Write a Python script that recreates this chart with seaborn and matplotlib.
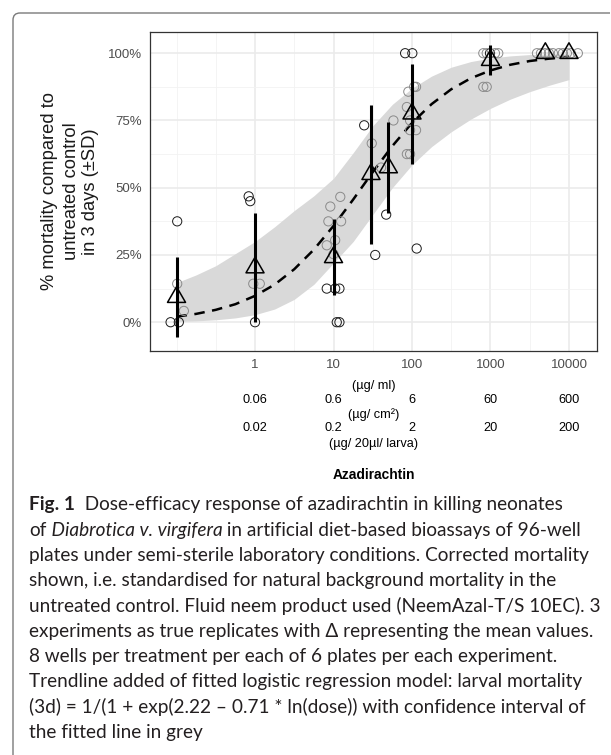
import numpy as np
import pandas as pd
import matplotlib
matplotlib.use("Agg")
import matplotlib.pyplot as plt
import seaborn as sns
from matplotlib.path import Path
from matplotlib.patches import PathPatch
from matplotlib.ticker import FixedLocator, NullFormatter
from matplotlib.transforms import blended_transform_factory

# ---------------- data ----------------
point_dose = [0.102, 0.102, 0.124, 0.084, 0.107,
              0.83, 0.87, 0.95, 1.15, 1.0,
              9.1, 12.2, 8.6, 12.5, 10.5, 8.2, 10.0, 8.2, 10.5, 11.9, 11.0, 11.9,
              24.6, 30.7, 34.0,
              46.9, 58.0, 40.4,
              81.7, 101, 106.5, 112.6, 89.8, 86, 94.5, 94.5, 112.6, 86, 94.5, 114.7,
              810, 895, 986, 1140, 1256, 810, 895,
              3910, 4400, 4930, 5550, 6240,
              7430, 8360, 9400, 10570, 12970]
point_mortality = [37.5, 14.3, 4.2, 0, 0,
                   46.8, 45.0, 14.3, 14.3, 0,
                   43.0, 46.6, 37.5, 37.5, 30.5, 28.6, 25.3, 12.5, 12.5, 12.5, 0, 0,
                   73.2, 66.5, 25.0,
                   40.0, 75.0, 57.5,
                   100, 100, 87.5, 87.5, 85.7, 80.0, 75.0, 71.4, 71.4, 62.5, 62.5, 27.4,
                   100, 100, 100, 100, 100, 87.5, 87.5,
                   100, 100, 100, 100, 100,
                   100, 100, 100, 100, 100]
point_group = ["A", "B", "B", "A", "A",
               "A", "A", "B", "B", "A",
               "B", "B", "B", "B", "B", "B", "B", "A", "A", "A", "A", "A",
               "A", "B", "A",
               "A", "B", "B",
               "A", "A", "B", "B", "B", "B", "B", "B", "B", "B", "B", "A",
               "B", "B", "A", "B", "B", "B", "B",
               "B", "B", "B", "B", "B",
               "B", "B", "B", "B", "B"]

mean_dose = [0.1, 1, 10, 30, 50, 100, 1000, 5000, 10000]
mean_mortality = [9.3, 20.3, 24.1, 55.0, 57.5, 77.5, 97.4, 100.0, 100.0]
sd_mortality = [14.8, 20.3, 14.1, 25.8, 17.0, 18.5, 5.6, 0.0, 0.0]

fit_dose = [0.1, 0.178, 0.316, 0.562, 1, 1.78, 3.16, 5.62, 10, 17.8, 31.6, 56.2,
            100, 178, 316, 562, 1000, 1780, 3160, 5620, 10000]
fit_mortality = [2.1, 3.1, 4.6, 6.7, 9.8, 14.0, 19.7, 27.0, 35.8, 45.6, 55.8, 65.5,
                 74.1, 81.1, 86.6, 90.7, 93.6, 95.7, 97.1, 98.0, 98.7]
fit_lower = [0.3, 0.5, 0.9, 1.6, 2.8, 4.9, 8.5, 14.1, 22.0, 30.0, 40.0, 50.0,
             58.5, 65.3, 70.8, 75.5, 79.5, 82.9, 85.7, 88.1, 90.2]
fit_upper = [14.7, 17.6, 21.0, 25.5, 30.0, 35.5, 41.5, 47.0, 53.5, 63.0, 73.0, 81.0,
             87.0, 91.5, 94.8, 96.9, 98.2, 99.0, 99.5, 99.7, 99.8]

x_ticks = [1, 10, 100, 1000, 10000]
x_tick_labels = ["1", "10", "100", "1000", "10000"]
conc_cm2 = ["0.06", "0.6", "6", "60", "600"]
conc_larva = ["0.02", "0.2", "2", "20", "200"]
y_ticks = [0, 25, 50, 75, 100]
y_tick_labels = ["0%", "25%", "50%", "75%", "100%"]

y_title = ["% mortality compared to", "untreated control", "in 3 days (\u00b1SD)"]
unit_ml = "(\u00b5g/ ml)"
unit_cm2 = "(\u00b5g/ cm\u00b2)"
unit_larva = "(\u00b5g/ 20\u00b5l/ larva)"
x_title = "Azadirachtin"

caption = [
    [("Fig. 1", "bold"), ("  Dose-efficacy response of azadirachtin in killing neonates", "normal")],
    [("of", "normal"), (" Diabrotica v. virgifera", "italic"), (" in artificial diet-based bioassays of 96-well", "normal")],
    [("plates under semi-sterile laboratory conditions. Corrected mortality", "normal")],
    [("shown, i.e. standardised for natural background mortality in the", "normal")],
    [("untreated control. Fluid neem product used (NeemAzal-T/S 10EC). 3", "normal")],
    [("experiments as true replicates with \u0394 representing the mean values.", "normal")],
    [("8 wells per treatment per each of 6 plates per each experiment.", "normal")],
    [("Trendline added of fitted logistic regression model: larval mortality", "normal")],
    [("(3d) = 1/(1 + exp(2.22 \u2013 0.71 * ln(dose)) with confidence interval of", "normal")],
    [("the fitted line in grey", "normal")],
]

points = pd.DataFrame({"dose": point_dose, "mortality": point_mortality, "group": point_group})
means = pd.DataFrame({"dose": mean_dose, "mortality": mean_mortality, "sd": sd_mortality})
fit = pd.DataFrame({"dose": fit_dose, "mortality": fit_mortality,
                    "lower": fit_lower, "upper": fit_upper})

# ---------------- style ----------------
sns.set_style("white")
plt.rcParams["font.family"] = ["Liberation Sans", "DejaVu Sans"]
W, H = 611, 755
fig = plt.figure(figsize=(W / 100, H / 100), dpi=100)
fig.patch.set_facecolor("white")

def fx(px):
    return px / W

def fy(px):
    return 1 - px / H

left, right, top, bottom = 150, 597, 31.7, 351
ax = fig.add_axes([fx(left), fy(bottom), (right - left) / W, (bottom - top) / H])
ax.set_facecolor("white")
ax.set_xscale("log")
ax.set_xlim(10 ** -1.338, 10 ** 4.357)
ax.set_ylim(-10.7, 108.0)

# grid (theme_bw-like)
ax.set_axisbelow(True)
ax.xaxis.set_major_locator(FixedLocator(x_ticks))
ax.xaxis.set_minor_locator(FixedLocator([0.1, 10 ** -0.5, 10 ** 0.5, 10 ** 1.5, 10 ** 2.5, 10 ** 3.5]))
ax.xaxis.set_minor_formatter(NullFormatter())
ax.set_xticklabels(x_tick_labels)
ax.yaxis.set_major_locator(FixedLocator(y_ticks))
ax.yaxis.set_minor_locator(FixedLocator([12.5, 37.5, 62.5, 87.5]))
ax.set_yticklabels(y_tick_labels)
ax.grid(which="major", color="#EBEBEB", lw=1.2)
ax.grid(which="minor", color="#F2F2F2", lw=0.6)
ax.tick_params(which="minor", length=0)
ax.tick_params(which="major", length=3.6, width=0.8, color="#333333",
               labelsize=9.5, labelcolor="#4D4D4D", pad=2.4)
for s in ax.spines.values():
    s.set_color("#333333")
    s.set_linewidth(0.9)

# ribbon + fitted dashed line
ax.fill_between(fit["dose"], fit["lower"], fit["upper"], color="#D9D9D9", lw=0, zorder=1)
sns.lineplot(data=fit, x="dose", y="mortality", ax=ax, color="black", lw=1.8, zorder=2)
ax.lines[-1].set_linestyle((0, (4.2, 3.0)))

# individual points
shade = {"A": "#1A1A1A", "B": "#8A8A8A"}
for g, sub in points.groupby("group"):
    sns.scatterplot(data=sub, x="dose", y="mortality", ax=ax, marker="o", s=44,
                    color=shade[g], facecolor="none", edgecolor=shade[g],
                    linewidth=0.7, zorder=3, legend=False)

# SD bars
ax.vlines(means["dose"], means["mortality"] - means["sd"], means["mortality"] + means["sd"],
          color="black", lw=2.2, zorder=4)

# mean triangles (ggplot shape 2, centred on centroid)
tri = Path([(0, 1.555), (1.347, -0.778), (-1.347, -0.778), (0, 1.555)],
           [Path.MOVETO, Path.LINETO, Path.LINETO, Path.CLOSEPOLY])
sns.scatterplot(data=means, x="dose", y="mortality", ax=ax, marker=tri, s=225,
                color="black", facecolor="none", edgecolor="black", linewidth=1.1,
                zorder=5, legend=False)
ax.set_xlabel("")
ax.set_ylabel("")

# y-axis title (three lines)
for xpx, line in zip([50, 71.3, 90.8], y_title):
    fig.text(fx(xpx), fy(191.5), line, rotation=90, ha="center", va="center",
             fontsize=13.2, color="#1A1A1A")

# concentration rows under the axis
btr = blended_transform_factory(ax.transData, fig.transFigure)
xmid = fx((left + right) / 2)
fig.text(xmid, fy(386), unit_ml, ha="center", va="center", fontsize=9.2, color="black")
for xv, lab in zip(x_ticks, conc_cm2):
    ax.text(xv, fy(400), lab, transform=btr, ha="center", va="center", fontsize=9.2, color="black")
fig.text(xmid, fy(415), unit_cm2, ha="center", va="center", fontsize=9.2, color="black")
for xv, lab in zip(x_ticks, conc_larva):
    ax.text(xv, fy(428.5), lab, transform=btr, ha="center", va="center", fontsize=9.2, color="black")
fig.text(xmid, fy(444), unit_larva, ha="center", va="center", fontsize=9.2, color="black")
fig.text(xmid, fy(474.7), x_title, ha="center", va="center", fontsize=9.9,
         weight="bold", color="black")

# frame line (top + left with rounded corner)
r = 7
frame = Path([(fx(13), fy(755)), (fx(13), fy(13 + r)), (fx(13), fy(13)), (fx(13 + r), fy(13)),
              (fx(610), fy(13))],
             [Path.MOVETO, Path.LINETO, Path.CURVE3, Path.CURVE3, Path.LINETO])
fig.add_artist(PathPatch(frame, transform=fig.transFigure, fill=False,
                         edgecolor="#7A7A7A", lw=1.0))

# caption
cap_family = ["Lato", "DejaVu Sans"]
cap_color = "#231F20"
cap_x = 29.2
renderer = fig.canvas.get_renderer()
probe = fig.text(0, 0, caption[2][0][0], fontsize=13, family=cap_family)
wpx = probe.get_window_extent(renderer).width
probe.remove()
cap_size = 13 * (588.0 - cap_x) / wpx

for i, pieces in enumerate(caption):
    ybase = 505.6 + 25.3 * i + 4.8
    prev = None
    for txt, sty in pieces:
        kw = dict(fontsize=cap_size, family=cap_family, color=cap_color)
        if sty == "bold":
            kw["weight"] = "bold"
        if sty == "italic":
            kw["style"] = "italic"
        if prev is None:
            prev = fig.text(fx(cap_x), fy(ybase), txt, ha="left", va="baseline", **kw)
        else:
            prev = ax.annotate(txt, xy=(1, 0), xycoords=prev, ha="left", va="bottom",
                               annotation_clip=False, **kw)

fig.savefig("out.png", dpi=100)
